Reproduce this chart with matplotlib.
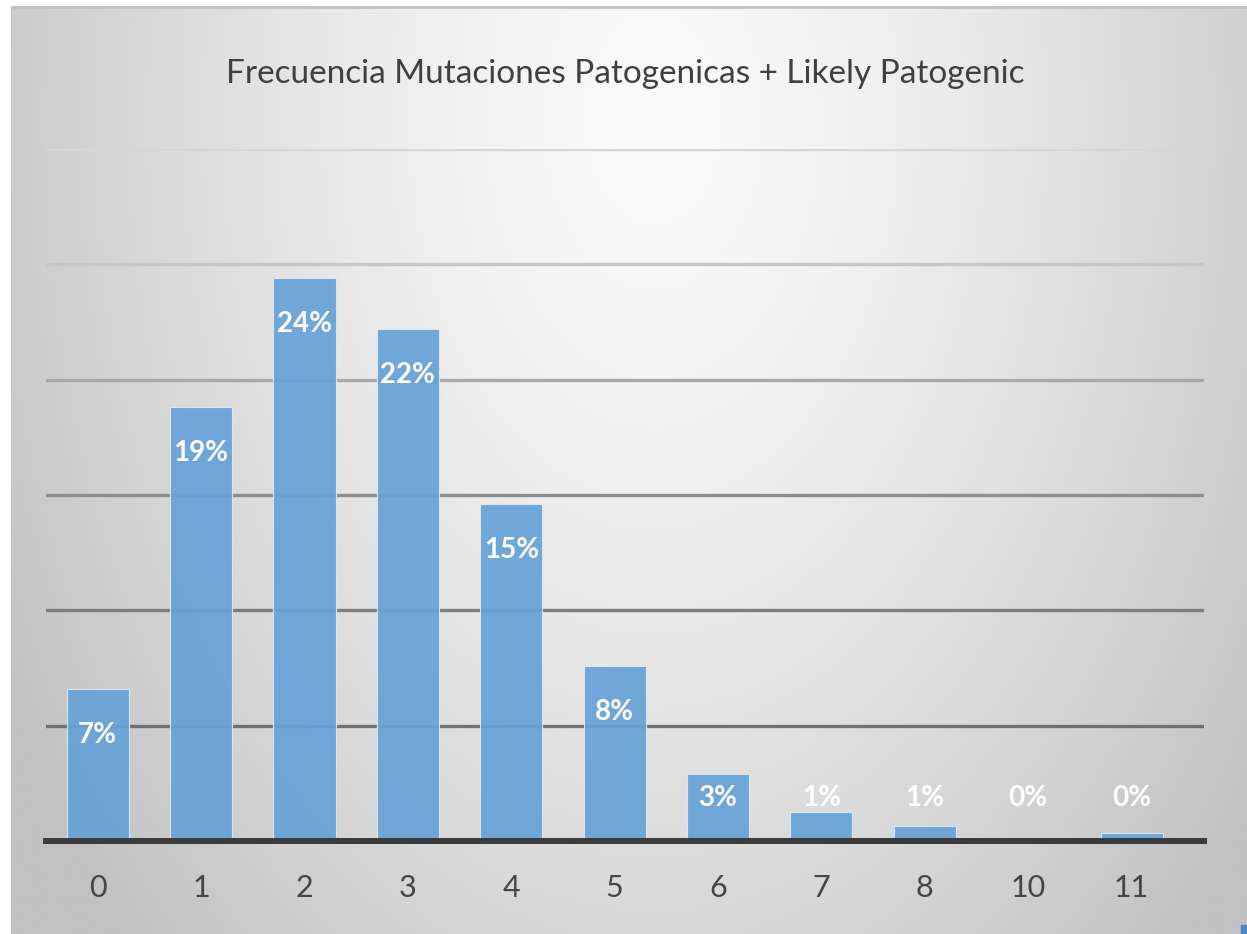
import numpy as np
import matplotlib
matplotlib.use("Agg")
import matplotlib.pyplot as plt

# mutation counts per sample and their share (%)
categories = ["0", "1", "2", "3", "4", "5", "6", "7", "8", "10", "11"]
percent = [6.6, 18.8, 24.4, 22.2, 14.6, 7.6, 2.9, 1.26, 0.65, 0.13, 0.35]
grid_levels = [5, 10, 15, 20, 25, 30]
grid_colors = ["#717171", "#7e7e7e", "#8e8e8e", "#a9a9a9", "#c6c6c6", "#d6d6d6"]

title = "Frecuencia Mutaciones Patogenicas + Likely Patogenic"
font_main = ["Lato", "DejaVu Sans"]

W, H = 1247, 934
fig = plt.figure(figsize=(W / 100, H / 100), dpi=100, facecolor="white")

# slide-like grey panel with a soft radial highlight near the top
bg = fig.add_axes([0, 0, 1, 1], zorder=-10)
bg.set_xlim(0, W)
bg.set_ylim(H, 0)
bg.axis("off")
px0, py0 = 11, 6
gx = np.linspace(0, 1, 400)
gy = np.linspace(0, 1, 300)
XX, YY = np.meshgrid(gx, gy)
r = np.sqrt(((XX - 0.52) / 0.6) ** 2 + ((YY - 0.12) / 1.25) ** 2)
r = np.clip(r, 0, 1)
shade = (250 - 56 * r ** 1.4) / 255.0
img = np.dstack([shade, shade, shade])
bg.imshow(img, extent=(px0, W, H, py0), aspect="auto", interpolation="bilinear")
bg.plot([px0, W], [py0 + 1, py0 + 1], color="#c2c2c2", lw=2, solid_capstyle="butt")
bg.add_patch(plt.Rectangle((1241, 925), 6, 9, color="#4f86c6"))

left, right = 46, 1204
top, base = 149, 841
ax = fig.add_axes([left / W, 1 - base / H, (right - left) / W, (base - top) / H])
ax.set_facecolor("none")

x = np.arange(len(categories))
bars = ax.bar(x, percent, width=0.6, color="#67a2d8", alpha=0.93,
              edgecolor="#dce9f6", linewidth=0.8, zorder=2)

ax.set_xlim(-0.5, 10.7)
ax.set_ylim(0, 30)
ax.set_yticks(grid_levels)
ax.yaxis.grid(True, linewidth=2.4)
ax.set_axisbelow(True)
for gl, c in zip(ax.get_ygridlines(), grid_colors):
    gl.set_color(c)
ax.tick_params(axis="y", left=False, labelleft=False)
ax.tick_params(axis="x", length=0, pad=24, labelsize=22, labelcolor="#454545")
ax.set_xticks(x)
ax.set_xticklabels(categories, family=font_main)

for s in ["left", "right", "top"]:
    ax.spines[s].set_visible(False)
ax.spines["bottom"].set_color("#3b3b3b")
ax.spines["bottom"].set_linewidth(4.3)
ax.spines["bottom"].set_zorder(3)

# value labels near the top end of each bar
for xi, v in zip(x, percent):
    ly = max(v - 2.0, 1.85)
    ax.text(xi, ly, f"{v:.0f}%", ha="center", va="center", color="white",
            fontsize=20, fontweight="bold", family=font_main, zorder=4)

fig.text(625 / W, 1 - 74 / H, title, ha="center", va="center",
         fontsize=24, color="#404040", family=font_main)

fig.savefig("out.png", dpi=100, facecolor="white")
